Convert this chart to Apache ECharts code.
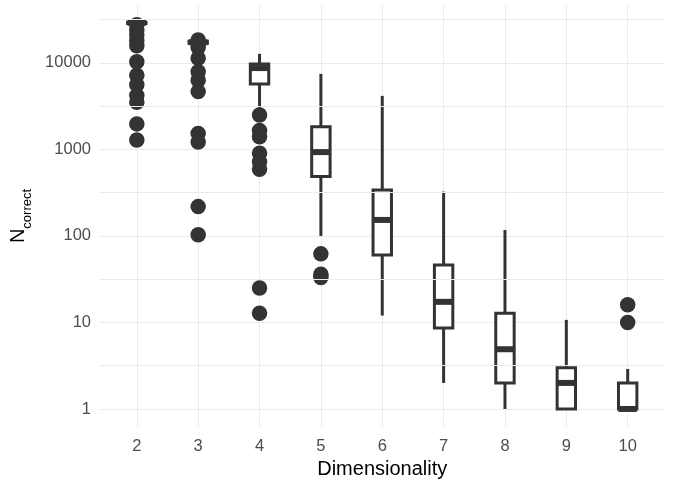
<!DOCTYPE html>
<html>
<head>
<meta charset="utf-8">
<script src="https://cdn.jsdelivr.net/npm/echarts@6/dist/echarts.min.js"></script>
<style>
html,body{margin:0;padding:0;background:#ffffff;}
#chart{width:677px;height:485px;}
</style>
</head>
<body>
<div id="chart"></div>
<script>
// ---- data ----
const dims = [2, 3, 4, 5, 6, 7, 8, 9, 10];
const whiskerLow  = [28500, 16800, 2700, 100, 12, 2, 1, 1, 1];
const q1          = [28500, 16800, 5700, 485, 60, 8.6, 2, 1, 1];
const median      = [29000, 17300, 8700, 930, 153, 17.3, 4.9, 2, 1];
const q3          = [29500, 17800, 9700, 1830, 340, 46, 12.8, 3, 2];
const whiskerHigh = [29500, 17800, 12700, 7450, 4150, 325, 117, 10.7, 2.9];

const outlierDims = [
  2, 2, 2, 2, 2, 2, 2, 2, 2, 2, 2, 2,
  3, 3, 3, 3, 3, 3, 3, 3, 3, 3,
  4, 4, 4, 4, 4, 4, 4, 4,
  5, 5, 5,
  10, 10
];
const outlierValues = [
  27500, 24000, 21000, 18000, 15800, 10300, 7200, 5600, 4200, 3500, 1970, 1280,
  18400, 15000, 11300, 7900, 6300, 4650, 1530, 1220, 218, 103,
  2500, 1650, 1400, 900, 720, 590, 25, 12.8,
  62, 36, 33,
  16, 10
];

const yTickLabels = [1, 10, 100, 1000, 10000];
const yMinorBreaks = [3.1623, 31.623, 316.23, 3162.3, 31623];
const xTitle = 'Dimensionality';

// ---- styling ----
const DARK = '#333333';
const GRID = '#ebebeb';
const LW = 3;
const FONT = "'Liberation Sans', Arial, sans-serif";

const boxData = dims.map((d, i) => [d, whiskerLow[i], q1[i], median[i], q3[i], whiskerHigh[i]]);
const pointData = outlierDims.map((d, i) => [d, outlierValues[i]]);

const chart = echarts.init(document.getElementById('chart'), null, {renderer: 'canvas'});

chart.setOption({
  animation: false,
  backgroundColor: '#ffffff',
  grid: {left: 100, right: 12.5, top: 4, bottom: 57, containLabel: false},
  xAxis: {
    type: 'value',
    min: 1.4,
    max: 10.6,
    splitNumber: 9,
    minInterval: 1,
    maxInterval: 1,
    axisLine: {show: false},
    axisTick: {show: false},
    axisLabel: {
      color: '#4d4d4d', fontSize: 16.5, fontFamily: FONT, margin: 10,
      showMinLabel: false, showMaxLabel: false,
      formatter: v => (dims.indexOf(Math.round(v)) >= 0 && Math.abs(v - Math.round(v)) < 1e-6) ? String(Math.round(v)) : ''
    },
    splitLine: {show: true, showMinLine: false, showMaxLine: false, lineStyle: {color: GRID, width: 1}},
    name: xTitle,
    nameLocation: 'middle',
    nameGap: 28,
    nameTextStyle: {color: '#000000', fontSize: 20, fontFamily: FONT}
  },
  yAxis: {
    type: 'log',
    logBase: 10,
    min: 0.6026,
    max: 47863,
    axisLine: {show: false},
    axisTick: {show: false},
    axisLabel: {
      color: '#4d4d4d', fontSize: 16.5, fontFamily: FONT, margin: 9,
      showMinLabel: false, showMaxLabel: false,
      formatter: v => {
        const r = Math.round(v);
        return yTickLabels.indexOf(r) >= 0 && Math.abs(v - r) < 1e-6 * Math.max(1, r) ? String(r) : '';
      }
    },
    splitLine: {show: true, showMinLine: false, showMaxLine: false, lineStyle: {color: GRID, width: 1}},
    name: '{n|N}{s|correct}',
    nameLocation: 'middle',
    nameRotate: 90,
    nameGap: 61,
    nameTextStyle: {
      color: '#000000',
      fontFamily: FONT,
      rich: {
        n: {fontSize: 20, lineHeight: 26, fontFamily: FONT, color: '#000000', verticalAlign: 'top'},
        s: {fontSize: 13, lineHeight: 13, fontFamily: FONT, color: '#000000', verticalAlign: 'bottom'}
      }
    }
  },
  series: [
    {
      // minor grid lines at the log mid-points
      type: 'line',
      data: [],
      z: 1,
      silent: true,
      markLine: {
        silent: true,
        symbol: 'none',
        label: {show: false},
        lineStyle: {color: GRID, width: 1, type: 'solid'},
        data: yMinorBreaks.map(v => ({yAxis: v}))
      }
    },
    {
      type: 'scatter',
      data: pointData,
      symbol: 'circle',
      symbolSize: 15.5,
      itemStyle: {color: DARK, opacity: 1},
      z: 2,
      silent: true
    },
    {
      type: 'custom',
      data: boxData,
      z: 3,
      silent: true,
      renderItem: function (params, api) {
        const x = api.value(0);
        const pLow = api.coord([x, api.value(1)]);
        const pQ1 = api.coord([x, api.value(2)]);
        const pMed = api.coord([x, api.value(3)]);
        const pQ3 = api.coord([x, api.value(4)]);
        const pHigh = api.coord([x, api.value(5)]);
        const w = api.size([0.3, 0], [x, api.value(3)])[0];
        const cx = pMed[0];
        return {
          type: 'group',
          children: [
            {type: 'line', shape: {x1: cx, y1: pLow[1], x2: cx, y2: pQ1[1]}, style: {stroke: DARK, lineWidth: LW}},
            {type: 'line', shape: {x1: cx, y1: pQ3[1], x2: cx, y2: pHigh[1]}, style: {stroke: DARK, lineWidth: LW}},
            {type: 'rect', shape: {x: cx - w / 2, y: pQ3[1], width: w, height: pQ1[1] - pQ3[1]}, style: {fill: '#ffffff', stroke: DARK, lineWidth: LW}},
            {type: 'line', shape: {x1: cx - w / 2, y1: pMed[1], x2: cx + w / 2, y2: pMed[1]}, style: {stroke: DARK, lineWidth: LW * 2}}
          ]
        };
      }
    }
  ]
});
</script>
</body>
</html>
